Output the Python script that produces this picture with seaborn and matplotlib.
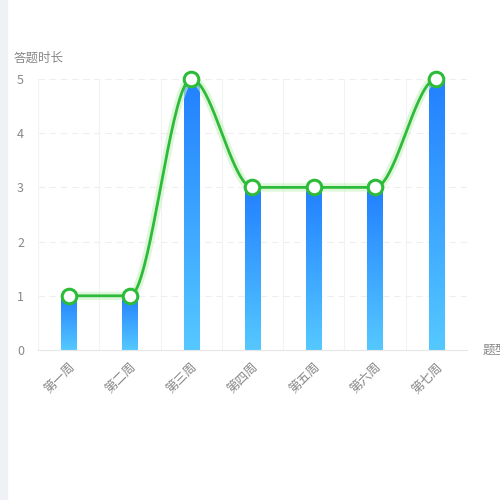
import numpy as np
import pandas as pd
import seaborn as sns
from matplotlib import pyplot as plt
from matplotlib.colors import LinearSegmentedColormap

sns.set_style("white")
plt.rcParams['font.family'] = ['Noto Sans CJK SC', 'DejaVu Sans']

weeks = ['第一周', '第二周', '第三周', '第四周', '第五周', '第六周', '第七周']
durations = [1, 1, 5, 3, 3, 3, 5]
df = pd.DataFrame({'week': weeks, 'duration': durations})

fig = plt.figure(figsize=(5, 5), dpi=100)
fig.patches.append(plt.Rectangle((0, 0), 0.014, 1, transform=fig.transFigure,
                                 color='#f0f1f5', zorder=0))
ax = fig.add_axes([0.076, 0.30, 0.858, 0.542])

bars = sns.barplot(data=df, x='week', y='duration', width=0.25, ax=ax,
                   color='#2f8cff', zorder=2)
cmap = LinearSegmentedColormap.from_list('b', ['#55c8ff', '#2280ff'])
grad = np.linspace(0, 1, 100).reshape(-1, 1)
for p in bars.patches:
    x0, w, h = p.get_x(), p.get_width(), p.get_height()
    ax.imshow(grad, cmap=cmap, origin='lower', aspect='auto',
              extent=[x0, x0 + w, 0, h], zorder=2)
    p.set_visible(False)

# smooth curve: Hermite with flat tangents at extrema / plateaus
xs = np.arange(len(durations), dtype=float)
ys = np.array(durations, dtype=float)
d = np.diff(ys)
m = np.zeros_like(ys)
for i in range(1, len(ys) - 1):
    if d[i - 1] * d[i] > 0:
        m[i] = 0.5 * (d[i - 1] + d[i])
t = np.linspace(0, 1, 40)
h00 = 2 * t ** 3 - 3 * t ** 2 + 1
h10 = t ** 3 - 2 * t ** 2 + t
h01 = -2 * t ** 3 + 3 * t ** 2
h11 = t ** 3 - t ** 2
cx, cy = [], []
for i in range(len(ys) - 1):
    cx.extend(xs[i] + t)
    cy.extend(h00 * ys[i] + h10 * m[i] + h01 * ys[i + 1] + h11 * m[i + 1])
ax.plot(cx, cy, color='#c8f0c0', lw=6, alpha=0.6, zorder=3, clip_on=False)
ax.plot(cx, cy, color='#2dbb3a', lw=2, zorder=4, clip_on=False)
sns.scatterplot(x=xs, y=ys, s=110, color='white', edgecolor='#2dbb3a',
                linewidth=2.2, zorder=5, ax=ax, clip_on=False)

ax.set_xlim(-0.5, len(weeks) - 0.5)
ax.set_ylim(0, 5)
ax.set_yticks(range(6))
ax.set_xticks(xs)
ax.set_xticklabels(weeks, rotation=45, ha='right', rotation_mode='anchor',
                   color='#888888', fontsize=9)
ax.tick_params(axis='y', colors='#888888', labelsize=9, length=0, pad=10)
ax.tick_params(axis='x', length=0, pad=8)
for yv in range(1, 6):
    ax.axhline(yv, color='#eeeeee', lw=0.8, ls=(0, (6, 4)), zorder=1)
for xv in np.arange(-0.5, len(weeks), 1):
    ax.axvline(xv, color='#f2f2f2', lw=0.8, zorder=1)
for s in ['top', 'right', 'left']:
    ax.spines[s].set_visible(False)
ax.spines['bottom'].set_color('#e6e6e6')
ax.set_xlabel('')
ax.set_ylabel('')
fig.text(0.028, 0.877, '答题时长', color='#888888', fontsize=9)
fig.text(0.966, 0.292, '题型', color='#888888', fontsize=9)

fig.savefig('out.png', dpi=100)
